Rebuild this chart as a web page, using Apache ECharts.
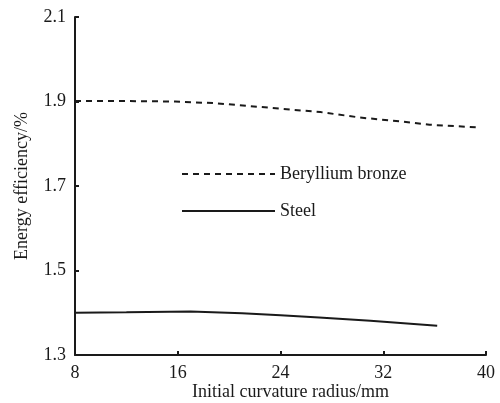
<!DOCTYPE html>
<html>
<head>
<meta charset="utf-8">
<script src="https://cdn.jsdelivr.net/npm/echarts@6/dist/echarts.min.js"></script>
<style>
  html, body { margin: 0; padding: 0; background: #fff; }
  #chart { width: 500px; height: 403px; }
</style>
</head>
<body>
<div id="chart"></div>
<script>
// values
var bronzeRadius = [8, 12, 15.8, 18.9, 24.0, 27.1, 30.2, 33.3, 35.6, 39.2];
var bronzeEff = [1.901, 1.901, 1.900, 1.896, 1.883, 1.875, 1.862, 1.853, 1.845, 1.839];
var steelRadius = [8, 12, 17.0, 21.0, 24.0, 27.0, 31.0, 36.2];
var steelEff = [1.400, 1.401, 1.403, 1.399, 1.394, 1.389, 1.381, 1.369];
var seriesNames = ['Beryllium bronze', 'Steel'];

var font = 'Liberation Serif';
var ink = '#1a1a1a';

function pairs(xs, ys) {
  return xs.map(function (x, i) { return [x, ys[i]]; });
}

var chart = echarts.init(document.getElementById('chart'));
chart.setOption({
  animation: false,
  backgroundColor: '#fff',
  grid: { left: 75, right: 14, top: 17, bottom: 48, outerBoundsMode: 'none' },
  legend: {
    orient: 'vertical',
    left: 176,
    top: 160,
    itemWidth: 93,
    itemHeight: 14,
    itemGap: 19,
    data: seriesNames,
    itemStyle: { opacity: 0 },
    textStyle: { fontFamily: font, fontSize: 18, color: ink }
  },
  xAxis: {
    type: 'value',
    min: 8, max: 40, interval: 8,
    name: 'Initial curvature radius/mm',
    nameLocation: 'middle',
    nameGap: 28,
    nameMoveOverlap: false,
    nameTextStyle: { fontFamily: font, fontSize: 18, color: ink, padding: [0, 0, 0, 20] },
    axisLine: { lineStyle: { color: ink, width: 2 } },
    axisTick: { inside: true, length: 4, lineStyle: { color: ink, width: 2 } },
    axisLabel: { fontFamily: font, fontSize: 18, color: ink, margin: 9 },
    splitLine: { show: false }
  },
  yAxis: {
    type: 'value',
    min: 1.3, max: 2.1, interval: 0.2,
    name: 'Energy efficiency/%',
    nameLocation: 'middle',
    nameGap: 44,
    nameMoveOverlap: false,
    nameTextStyle: { fontFamily: font, fontSize: 18, color: ink },
    axisLine: { show: true, lineStyle: { color: ink, width: 2 } },
    axisTick: { show: true, inside: true, length: 4, lineStyle: { color: ink, width: 2 } },
    axisLabel: { fontFamily: font, fontSize: 18, color: ink, margin: 9,
      formatter: function (v) { return v.toFixed(1); } },
    splitLine: { show: false }
  },
  series: [
    {
      name: seriesNames[0],
      type: 'line',
      data: pairs(bronzeRadius, bronzeEff),
      symbol: 'none',
      smooth: false,
      lineStyle: { color: ink, width: 2, type: [6, 5] },
      itemStyle: { color: ink }
    },
    {
      name: seriesNames[1],
      type: 'line',
      data: pairs(steelRadius, steelEff),
      symbol: 'none',
      smooth: false,
      lineStyle: { color: ink, width: 2, type: 'solid' },
      itemStyle: { color: ink }
    }
  ]
});
</script>
</body>
</html>
